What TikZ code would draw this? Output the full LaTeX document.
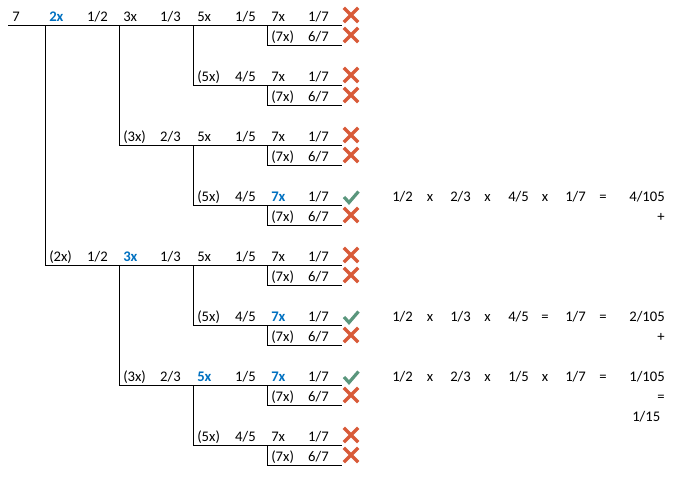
\documentclass[tikz,border=0pt]{standalone}
\usepackage{fontspec}
\setmainfont{Carlito}
\usepackage{tikz}
\usetikzlibrary{positioning,shapes.misc}
\usepackage{xcolor}
\definecolor{pickblue} {RGB}{  0,112,192}
\definecolor{hitgreen} {RGB}{ 90,150,125}
\definecolor{missred}  {RGB}{216, 90, 56}

\begin{document}
\begin{tikzpicture}[
    x=0.75pt, y=-0.75pt,
    font=\fontsize{11}{13}\selectfont,
    lbl/.style={inner sep=0pt, anchor=base west},
    frac/.style={inner sep=0pt, anchor=base east},
    mid/.style={inner sep=0pt, anchor=base},
    pick/.style={lbl, text=pickblue, font=\fontsize{11}{13}\selectfont\bfseries},
    tree/.style={line width=0.75pt},
    miss/.style={cross out, draw=missred, line width=2.5pt, inner sep=0pt, minimum size=8.25pt},
    hit/.style={inner sep=0pt, minimum size=10pt},
    tick/.style={draw=hitgreen, line width=2.4pt}
]
    \useasboundingbox (0,0) rectangle (681,476);

    % tree lines
    \coordinate (r1) at (8,25);
    \coordinate (end) at (342,25);
    \draw[tree] (r1) -- (end);
    \foreach \r/\p/\x in {2/1/267, 4/1/193, 5/4/267, 7/1/119, 8/7/267,
                          10/7/193, 11/10/267, 13/1/45, 14/13/267, 16/13/193,
                          17/16/267, 19/13/119, 20/19/267, 22/19/193, 23/22/267}{
        \coordinate (r\r) at (\x,5+20*\r);
        \draw[tree] (r\r |- r\p) -- (r\r) -- (r\r -| end);
    }

    % first branch
    \node[lbl] (seven) at (12,21) {7};
    \node[pick] (two1) at (49,21) {2x};
    \node[frac] (half1) at (108,21) {1/2};
    \node[lbl] (two13) at (49,261) {(2x)};
    \node[frac] (half13) at (108,261) {1/2};

    % thirds
    \node[lbl] (three1) at (123,21) {3x};
    \node[frac] (third1) at (181,21) {1/3};
    \node[lbl] (three7) at (123,141) {(3x)};
    \node[frac] (third7) at (181,141) {2/3};
    \node[pick] (three13) at (123,261) {3x};
    \node[frac] (third13) at (181,261) {1/3};
    \node[lbl] (three19) at (123,381) {(3x)};
    \node[frac] (third19) at (181,381) {2/3};

    % fifths
    \foreach \r in {1,7,13}{
        \node[lbl] (five\r) at (197,1+20*\r) {5x};
        \node[frac] (fifth\r) at (256,1+20*\r) {1/5};
    }
    \node[pick] (five19) at (197,381) {5x};
    \node[frac] (fifth19) at (256,381) {1/5};
    \foreach \r in {4,10,16,22}{
        \node[lbl] (five\r) at (197,1+20*\r) {(5x)};
        \node[frac] (fifth\r) at (256,1+20*\r) {4/5};
    }

    % sevenths
    \foreach \r in {1,4,7,13,22}{
        \node[lbl] (seven\r) at (271,1+20*\r) {7x};
        \node[frac] (sev\r) at (329,1+20*\r) {1/7};
        \node[miss] (m\r) at (351,20*\r-5) {};
    }
    \foreach \r in {10,16,19}{
        \node[pick] (seven\r) at (271,1+20*\r) {7x};
        \node[frac] (sev\r) at (329,1+20*\r) {1/7};
        \node[hit] (k\r) at (351,20*\r-5) {};
        \draw[tick] ([shift={(-7,2)}]k\r.center) -- ++(5,5.5) -- ++(9.5,-11);
    }
    \foreach \r in {2,5,8,11,14,17,20,23}{
        \node[lbl] (seven\r) at (271,1+20*\r) {(7x)};
        \node[frac] (sev\r) at (329,1+20*\r) {6/7};
        \node[miss] (m\r) at (351,20*\r-5) {};
    }

    % products
    \node[lbl] (pa) at (392,201) {1/2};
    \node[mid] (xa) at (430,201) {x};
    \node[lbl] (pb) at (450,201) {2/3};
    \node[mid] (xb) at (487.5,201) {x};
    \node[lbl] (pc) at (508,201) {4/5};
    \node[mid] (xc) at (545,201) {x};
    \node[lbl] (pd) at (565,201) {1/7};
    \node[mid] (eqa) at (603,201) {=};
    \node[frac] (suma) at (665,201) {4/105};
    \node[frac] (plusa) at (665,221) {+};

    \node[lbl] (qa) at (392,321) {1/2};
    \node[mid] (ya) at (430,321) {x};
    \node[lbl] (qb) at (450,321) {1/3};
    \node[mid] (yb) at (487.5,321) {x};
    \node[lbl] (qc) at (508,321) {4/5};
    \node[mid] (yc) at (545,321) {=};
    \node[lbl] (qd) at (565,321) {1/7};
    \node[mid] (eqb) at (603,321) {=};
    \node[frac] (sumb) at (665,321) {2/105};
    \node[frac] (plusb) at (665,341) {+};

    \node[lbl] (ua) at (392,381) {1/2};
    \node[mid] (za) at (430,381) {x};
    \node[lbl] (ub) at (450,381) {2/3};
    \node[mid] (zb) at (487.5,381) {x};
    \node[lbl] (uc) at (508,381) {1/5};
    \node[mid] (zc) at (545,381) {x};
    \node[lbl] (ud) at (565,381) {1/7};
    \node[mid] (eqc) at (603,381) {=};
    \node[frac] (sumc) at (665,381) {1/105};
    \node[frac] (eqd) at (665,401) {=};
    \node[lbl] (total) at (632,421) {1/15};
\end{tikzpicture}
\end{document}
